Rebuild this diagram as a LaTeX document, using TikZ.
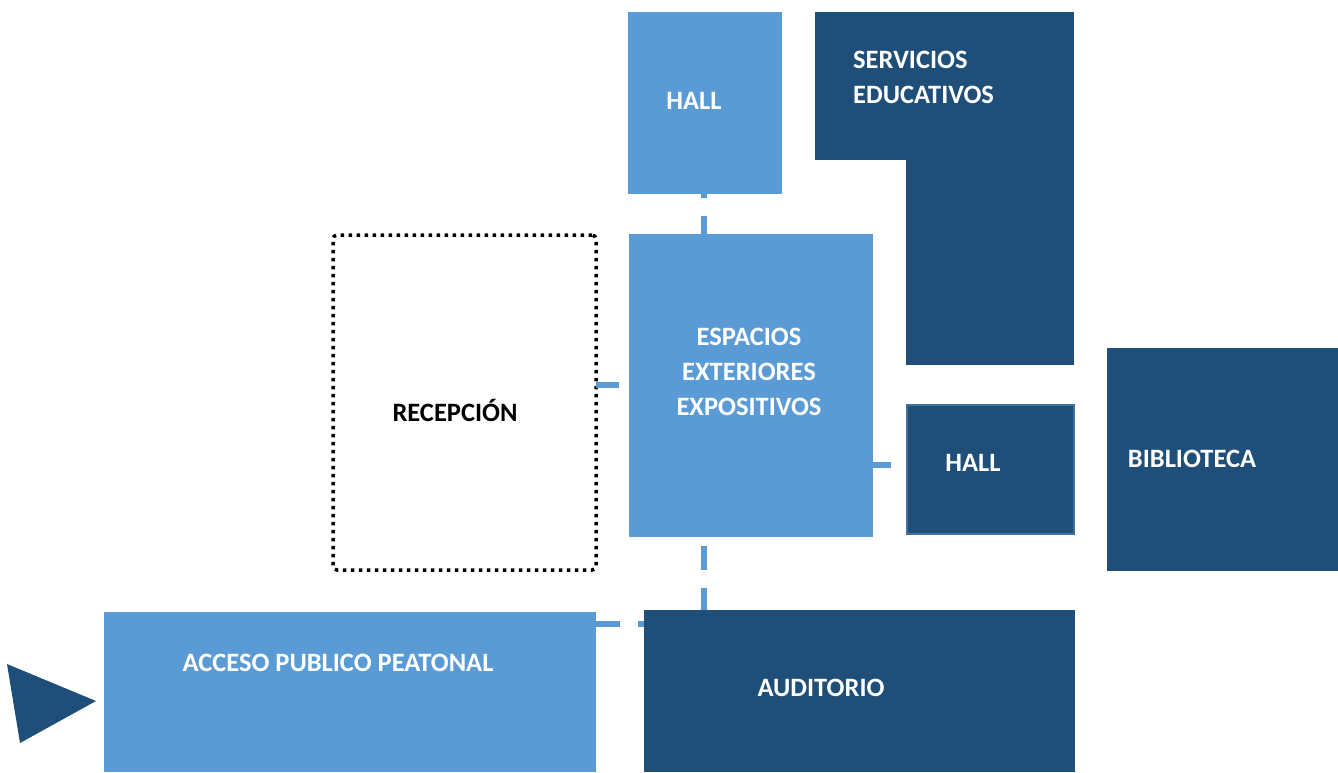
\documentclass[tikz,border=0pt]{standalone}
\usepackage{fontspec}
\setmainfont{Carlito}
\usetikzlibrary{calc}
\definecolor{lblue}{HTML}{5B9BD5}
\definecolor{dblue}{HTML}{1F4E79}
\definecolor{hborder}{HTML}{41719C}
\tikzset{
  room/.style={anchor=north west, inner sep=0pt, outer sep=0pt, draw=none},
  lightroom/.style={room, fill=lblue},
  darkroom/.style={room, fill=dblue},
  lbl/.style={text=white, font=\bfseries\fontsize{26.5}{35}\selectfont, align=center, inner sep=0pt},
  lblleft/.style={lbl, align=left, anchor=west},
  link/.style={draw=lblue, line width=6pt},
}
\begin{document}
\begin{tikzpicture}[x=1pt,y=-1pt]
\useasboundingbox (0,0) rectangle (1338,772);

% rooms
\node[lightroom, minimum width=154pt, minimum height=182pt] (hall1) at (628,12) {};
\node[lightroom, minimum width=244pt, minimum height=303pt] (esp) at (629,234) {};
\node[room, draw=black, line width=3.5pt, dash pattern=on 3.5pt off 4.5pt, rounded corners=4pt,
      minimum width=263pt, minimum height=335pt] (recep) at (333,235) {};
\node[lightroom, minimum width=492pt, minimum height=160pt] (acc) at (104,612) {};
\node[darkroom, minimum width=431pt, minimum height=162pt] (aud) at (644,610) {};
\node[darkroom, minimum width=259pt, minimum height=148pt] (servtop) at (815,12) {};
\node[darkroom, minimum width=168pt, minimum height=205pt] (servbot) at (906,160) {};
\node[darkroom, draw=hborder, line width=2.5pt, minimum width=167pt, minimum height=129pt] (hall2) at (907,405) {};
\node[darkroom, minimum width=231pt, minimum height=223pt] (bib) at (1107,348) {};

% connectors
\draw[link, dash pattern=on 18pt off 18pt] ([xshift=-1pt,yshift=14pt]hall1.south) -- ([xshift=-1pt]hall1.south |- esp.north);
\draw[link, dash pattern=on 23pt off 20pt] ([yshift=18pt]recep.east) -- ([yshift=18pt]recep.east -| esp.west);
\draw[link, dash pattern=on 18pt off 20pt] ([yshift=4.5pt]hall2.west -| esp.east) -- ([yshift=4.5pt]hall2.west);
\draw[link, dash pattern=on 24pt off 18pt, dash phase=33pt] ([xshift=-47pt]esp.south) -- ([xshift=-47pt]esp.south |- aud.north);
\draw[link, dash pattern=on 24pt off 18pt] ([yshift=68pt]acc.east) -- ([yshift=68pt]acc.east -| aud.west);

% redraw boxes over connector ends
\fill[lblue] (hall1.north west) rectangle (hall1.south east);
\fill[lblue] (esp.north west) rectangle (esp.south east);
\fill[lblue] (acc.north west) rectangle (acc.south east);
\fill[dblue] (aud.north west) rectangle (aud.south east);

% entrance arrow
\fill[dblue] (7,664) -- (96,701) -- (20,743) -- cycle;

% labels
\node[lbl] (hall1t) at (694,101) {HALL};
\node[lblleft] (servt) at (853,77.5) {SERVICIOS\\EDUCATIVOS};
\node[lbl] (espt) at (749,372) {ESPACIOS\\EXTERIORES\\EXPOSITIVOS};
\node[lbl, text=black] (recept) at (455,410) {RECEPCIÓN};
\node[lbl] (hall2t) at (973,463) {HALL};
\node[lbl] (bibt) at (1192,459) {BIBLIOTECA};
\node[lbl] (acct) at (338,663) {ACCESO PUBLICO PEATONAL};
\node[lbl] (audt) at (821,688) {AUDITORIO};
\end{tikzpicture}
\end{document}
